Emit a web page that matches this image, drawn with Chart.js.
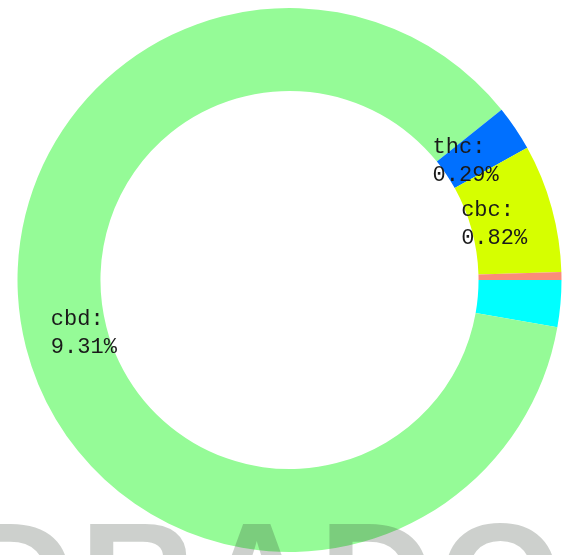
<!DOCTYPE html>
<html>
<head>
<meta charset="utf-8">
<script src="https://cdn.jsdelivr.net/npm/chart.js@4/dist/chart.umd.min.js"></script>
<style>
  html, body { margin: 0; padding: 0; background: #fff; }
  #wrap { width: 565px; height: 555px; position: relative; }
</style>
</head>
<body>
<div id="wrap"><canvas id="cannabinoid-chart"></canvas></div>
<script>
// Cannabinoid shares, clockwise from 3 o'clock
const categories = ["cbg", "cbd", "thc", "cbc", "cbn"];
const percentages = [0.30, 9.31, 0.29, 0.82, 0.05];
const labelledCategories = ["cbd", "thc", "cbc"];
const sliceColors = ["#00ffff", "#95fb97", "#0070ff", "#d6ff00", "#fa8c7a"];
const watermarkText = "DRADO";

// Draw "name:" / "value%" labels inside the ring, left-aligned block
const sliceLabels = {
  id: "sliceLabels",
  afterDatasetsDraw(chart) {
    const ctx = chart.ctx;
    const meta = chart.getDatasetMeta(0);
    ctx.save();
    ctx.font = "22px 'Courier New', 'Liberation Mono', monospace";
    ctx.fillStyle = "#1a1a1a";
    ctx.textAlign = "left";
    ctx.textBaseline = "middle";
    meta.data.forEach((arc, i) => {
      if (!labelledCategories.includes(categories[i])) return;
      const line1 = categories[i] + ":";
      const line2 = percentages[i].toFixed(2) + "%";
      const w = Math.max(ctx.measureText(line1).width, ctx.measureText(line2).width);
      const mid = (arc.startAngle + arc.endAngle) / 2;
      const r = arc.innerRadius + (arc.outerRadius - arc.innerRadius) * 0.28;
      const x = arc.x + Math.cos(mid) * r - w / 2;
      const y = arc.y + Math.sin(mid) * r;
      ctx.fillText(line1, x, y - 14);
      ctx.fillText(line2, x, y + 14);
    });
    ctx.restore();
  },
};

// Faint watermark across the bottom edge
const watermark = {
  id: "watermark",
  afterDraw(chart) {
    const ctx = chart.ctx;
    ctx.save();
    ctx.font = "bold 160px 'Liberation Sans', Arial, sans-serif";
    ctx.fillStyle = "rgba(40, 50, 40, 0.23)";
    ctx.textAlign = "left";
    ctx.textBaseline = "alphabetic";
    ctx.letterSpacing = "4px";
    ctx.fillText(watermarkText, -40, 634);
    ctx.restore();
  },
};

const ctx = document.getElementById("cannabinoid-chart").getContext("2d");

new Chart(ctx, {
  type: "doughnut",
  data: {
    labels: categories,
    datasets: [
      {
        data: percentages,
        backgroundColor: sliceColors,
        borderWidth: 0,
      },
    ],
  },
  options: {
    responsive: true,
    maintainAspectRatio: false,
    animation: false,
    rotation: 90,
    cutout: "69.5%",
    layout: {
      padding: { left: 14, right: 0, top: 8, bottom: 3 },
    },
    plugins: {
      legend: { display: false },
      tooltip: { enabled: false },
    },
  },
  plugins: [sliceLabels, watermark],
});
</script>
</body>
</html>
